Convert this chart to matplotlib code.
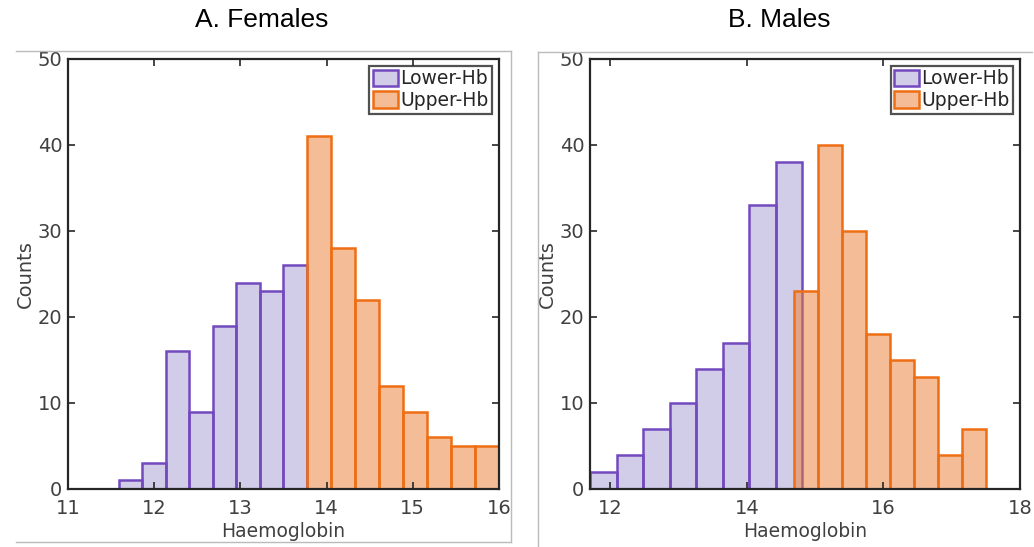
import matplotlib.pyplot as plt
import numpy as np
from matplotlib.lines import Line2D

# counts
fem_lower = [1, 3, 16, 9, 19, 24, 23, 26]
fem_upper = [41, 28, 22, 12, 9, 6, 5, 5]
male_lower = [2, 4, 7, 10, 14, 17, 33, 38]
male_upper = [23, 40, 30, 18, 15, 13, 4, 7]

# bin ranges (start, end) of each histogram
fem_lower_rng = (11.59, 13.77)
fem_upper_rng = (13.77, 16.0)
male_lower_rng = (11.70, 14.81)
male_upper_rng = (14.69, 17.50)

W, H = 1034, 547
fig = plt.figure(figsize=(W / 100, H / 100), dpi=100)

lower_face = (0.55, 0.50, 0.78, 0.40)
lower_edge = '#7349BE'
upper_face = (0.93, 0.49, 0.19, 0.50)
upper_edge = '#EE6E14'
grey = '#404040'


def draw_hist(ax, counts, rng, face, edge, label):
    edges = np.linspace(rng[0], rng[1], len(counts) + 1)
    ax.bar(edges[:-1], counts, width=np.diff(edges), align='edge',
           facecolor=face, edgecolor=edge, linewidth=1.8, label=label)


def style(ax, xlim, xticks):
    ax.set_xlim(*xlim)
    ax.set_ylim(0, 50)
    ax.set_xticks(xticks)
    ax.set_yticks(range(0, 51, 10))
    ax.tick_params(direction='in', length=5, width=1.2, top=True, right=True,
                   labelsize=14, labelcolor=grey, color='#262626')
    ax.tick_params(axis='x', pad=7)
    ax.tick_params(axis='y', pad=4)
    for s in ax.spines.values():
        s.set_linewidth(1.6)
        s.set_color('#262626')
    ax.set_xlabel('Haemoglobin', fontsize=13.5, color=grey, labelpad=3)
    ax.set_ylabel('Counts', fontsize=14, color=grey, labelpad=2)
    leg = ax.legend(loc='upper right', fontsize=13.5, frameon=True, fancybox=False,
                    borderpad=0.2, handlelength=1.3, handleheight=1.0,
                    handletextpad=0.15, labelspacing=0.15, borderaxespad=0.35)
    leg.get_frame().set_edgecolor('#262626')
    leg.get_frame().set_linewidth(1.6)
    for t in leg.get_texts():
        t.set_color('#262626')


ax1 = fig.add_axes([68 / W, 1 - 489 / H, (499 - 68) / W, (489 - 59) / H])
draw_hist(ax1, fem_lower, fem_lower_rng, lower_face, lower_edge, 'Lower-Hb')
draw_hist(ax1, fem_upper, fem_upper_rng, upper_face, upper_edge, 'Upper-Hb')
style(ax1, (11, 16), [11, 12, 13, 14, 15, 16])

ax2 = fig.add_axes([590 / W, 1 - 489 / H, (1020 - 590) / W, (489 - 59) / H])
draw_hist(ax2, male_lower, male_lower_rng, lower_face, lower_edge, 'Lower-Hb')
draw_hist(ax2, male_upper, male_upper_rng, upper_face, upper_edge, 'Upper-Hb')
style(ax2, (11.7, 18), [12, 14, 16, 18])

# titles
fig.text(262 / W, 1 - 20 / H, 'A. Females', ha='center', va='center',
         fontsize=19, family='Liberation Sans', color='black')
fig.text(779 / W, 1 - 20 / H, 'B. Males', ha='center', va='center',
         fontsize=19, family='Liberation Sans', color='black')


# light grey panel borders
def pline(xs, ys):
    fig.add_artist(Line2D([x / W for x in xs], [1 - y / H for y in ys],
                          color='#BBBBBB', linewidth=1.0))


pline([16, 511], [51, 51])
pline([511, 511], [51, 542])
pline([16, 511], [542, 542])
pline([538, 1032], [52, 52])
pline([538, 538], [52, 547])

plt.savefig('out.png', dpi=100)
